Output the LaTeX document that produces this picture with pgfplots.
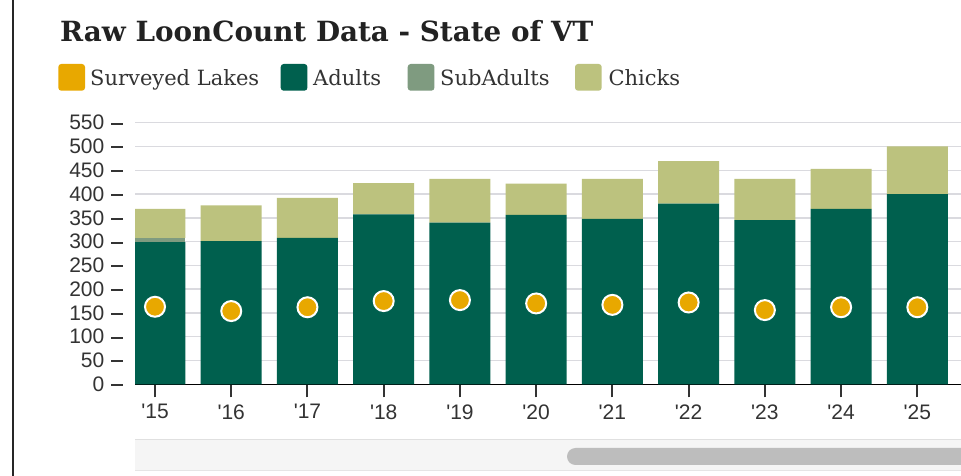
\documentclass[border=0pt]{standalone}
\usepackage{pgfplots}
\pgfplotsset{compat=1.18}
\usepackage{fontspec}
\setmainfont{DejaVu Serif}
\newfontfamily\sansf{Liberation Sans}
\definecolor{adult}{HTML}{00604E}
\definecolor{sub}{HTML}{7F9B80}
\definecolor{chick}{HTML}{BCC27E}
\definecolor{lake}{HTML}{E8A800}
\definecolor{gridc}{HTML}{DADADF}
\definecolor{tickc}{HTML}{333333}
\definecolor{titlec}{HTML}{222222}
\begin{document}
\begin{tikzpicture}
\path[use as bounding box] (0pt,0pt) rectangle (961pt,476pt);
\fill[white] (0pt,0pt) rectangle (961pt,476pt);
\draw[black!85, line width=2pt] (13pt,0pt) -- (13pt,476pt);
% scrollbar
\begin{scope}
\clip (0pt,0pt) rectangle (961pt,476pt);
\fill[black!4] (135pt,5pt) rectangle (961pt,36pt);
\draw[black!12, line width=1pt] (135pt,36pt) -- (961pt,36pt);
\draw[black!10, line width=1pt] (135pt,5pt) -- (961pt,5pt);
\fill[black!26, rounded corners=8.5pt] (567pt,11pt) rectangle (990pt,28pt);
\end{scope}
\begin{axis}[
  at={(135pt,91.7pt)}, anchor=south west,
  scale only axis, width=826pt, height=261.6pt,
  xmin=-0.2624, xmax=10.573, ymin=0, ymax=550,
  ybar stacked, bar width=0.8,
  axis lines*=left,
  y axis line style={draw=none},
  x axis line style={-, black, line width=1.5pt},
  ytick={0,50,...,550},
  ytick style={draw=none},
  ymajorgrids, grid style={gridc, line width=1.5pt},
  xtick={0,...,10},
  xticklabels={\textquotesingle15,\textquotesingle16,\textquotesingle17,\textquotesingle18,\textquotesingle19,\textquotesingle20,\textquotesingle21,\textquotesingle22,\textquotesingle23,\textquotesingle24,\textquotesingle25},
  xtick align=outside,
  major tick length=13pt,
  xtick style={tickc, line width=2pt},
  /pgf/number format/assume math mode=true,
  yticklabel={\pgfmathprintnumber{\tick}\hspace{7pt}\rule[5.3pt]{12pt}{2pt}},
  yticklabel style={font=\sansf\fontsize{21}{21}\selectfont, text=tickc, anchor=east, inner sep=0pt, xshift=-11.5pt},
  xticklabel style={font=\sansf\fontsize{21}{21}\selectfont, text=tickc, anchor=north, inner sep=0pt, yshift=-7pt},
]
\addplot[draw=none, fill=adult] coordinates {(0,299) (1,301) (2,308) (3,357) (4,340) (5,356) (6,348) (7,380) (8,345) (9,369) (10,400)};
\addplot[draw=none, fill=sub] coordinates {(0,9) (1,0) (2,0) (3,0) (4,0) (5,0) (6,0) (7,0) (8,0) (9,0) (10,0)};
\addplot[draw=none, fill=chick] coordinates {(0,61) (1,75) (2,84) (3,66) (4,92) (5,66) (6,84) (7,89) (8,87) (9,84) (10,100)};
\end{axis}
\begin{axis}[
  at={(135pt,91.7pt)}, anchor=south west,
  scale only axis, width=826pt, height=261.6pt,
  xmin=-0.2624, xmax=10.573, ymin=0, ymax=550,
  hide axis,
]
\addplot[only marks, mark=*, mark size=10pt, mark options={fill=lake, draw=white, line width=2pt}] coordinates {(0,163) (1,154) (2,162) (3,175) (4,177) (5,170) (6,167) (7,172) (8,156) (9,162) (10,162)};
\end{axis}
% title
\node[anchor=base west, inner sep=0pt, text=titlec, font=\fontsize{27.8}{32}\selectfont\bfseries] at (60pt,434.3pt) {Raw LoonCount Data - State of VT};
% legend
\begin{scope}[every node/.style={anchor=base west, inner sep=0pt, text=tickc, font=\fontsize{21}{25}\selectfont}]
\fill[lake, rounded corners=3pt] (58.3pt,385.3pt) rectangle ++(26.7pt,26.7pt);
\node at (90pt,390pt) {Surveyed Lakes};
\fill[adult, rounded corners=3pt] (280.7pt,385.3pt) rectangle ++(26.7pt,26.7pt);
\node at (313pt,390pt) {Adults};
\fill[sub, rounded corners=3pt] (407.7pt,385.3pt) rectangle ++(26.7pt,26.7pt);
\node at (440pt,390pt) {SubAdults};
\fill[chick, rounded corners=3pt] (575pt,385.3pt) rectangle ++(26.7pt,26.7pt);
\node at (608.3pt,390pt) {Chicks};
\end{scope}
\end{tikzpicture}
\end{document}
